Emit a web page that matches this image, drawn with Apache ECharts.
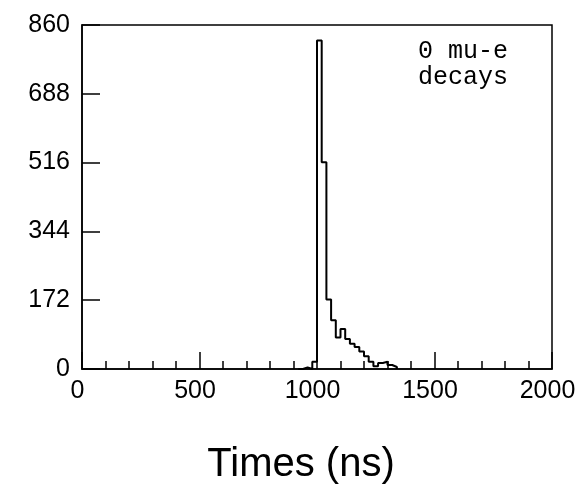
<!DOCTYPE html>
<html>
<head>
<meta charset="utf-8">
<script src="https://cdn.jsdelivr.net/npm/echarts@6/dist/echarts.min.js"></script>
<style>
  html, body { margin: 0; padding: 0; background: #fff; }
  #main { width: 588px; height: 490px; }
</style>
</head>
<body>
<div id="main"></div>
<script>
// histogram: 20 ns bins, first bin starts at 920 ns
const histStart = 920;
const binWidth = 20;
const counts = [0, 4, 0, 18, 821, 517, 174, 122, 79, 100, 75, 63, 55, 44, 32, 18, 7, 15, 18, 10, 5];
const yTicks = [0, 172, 344, 516, 688, 860];
const xTicks = [0, 500, 1000, 1500, 2000];
const note = ["0 mu-e", "decays"];

// step outline points (left edge, count) + closing point
const points = counts.map((c, i) => [histStart + i * binWidth, c]);
points.push([histStart + counts.length * binWidth, 0]);

const chart = echarts.init(document.getElementById('main'));

const labelFont = {
  color: '#000',
  fontFamily: 'Liberation Sans',
  fontSize: 25
};

chart.setOption({
  animation: false,
  backgroundColor: '#fff',
  grid: {
    left: 82, right: 36, top: 25, bottom: 121,
    show: true, borderColor: '#000', borderWidth: 1.5
  },
  xAxis: {
    type: 'value',
    min: xTicks[0], max: xTicks[xTicks.length - 1], interval: 500,
    axisLine: { lineStyle: { color: '#000', width: 1.5 } },
    axisTick: { inside: true, length: 17, lineStyle: { color: '#000', width: 1.5 } },
    minorTick: { show: true, splitNumber: 5, length: 8, lineStyle: { color: '#000', width: 1.5 } },
    splitLine: { show: false },
    axisLabel: Object.assign({
      margin: 10,
      padding: [0, 9, 0, 0],
      formatter: v => String(v)
    }, labelFont),
    name: 'Times (ns)',
    nameLocation: 'middle',
    nameGap: 76,
    nameTextStyle: {
      color: '#000', fontFamily: 'Liberation Sans', fontSize: 40,
      padding: [0, 32, 0, 0]
    }
  },
  yAxis: {
    type: 'value',
    min: yTicks[0], max: yTicks[yTicks.length - 1], interval: 172,
    axisLine: { show: true, lineStyle: { color: '#000', width: 1.5 } },
    axisTick: { show: true, inside: true, length: 18, lineStyle: { color: '#000', width: 1.5 } },
    splitLine: { show: false },
    axisLabel: Object.assign({ margin: 12 }, labelFont)
  },
  graphic: [{
    type: 'text',
    left: 418, top: 38,
    style: {
      text: note.join('\n'),
      fontFamily: 'Liberation Mono',
      fontSize: 25,
      lineHeight: 26,
      fill: '#000'
    }
  }],
  series: [{
    type: 'line',
    step: 'end',
    data: points,
    symbol: 'none',
    lineStyle: { color: '#000', width: 2 }
  }]
});
</script>
</body>
</html>
